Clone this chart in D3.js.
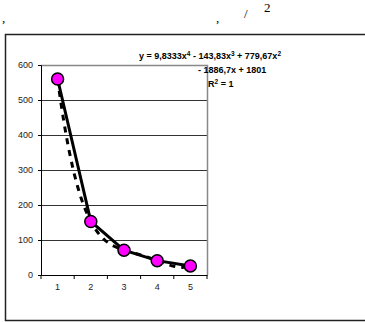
<!DOCTYPE html>
<html>
<head>
<script src="https://cdn.jsdelivr.net/npm/d3@7"></script>
<style>
body { margin: 0; background: #fff; }
svg text { font-family: "Liberation Sans", Arial, sans-serif; }
.top { font-family: "Liberation Serif", "Times New Roman", serif; font-size: 13px; }
</style>
</head>
<body>
<script>
// data
var categories = [1, 2, 3, 4, 5];
var values = [560, 153, 71, 41, 26];
var yTicks = [0, 100, 200, 300, 400, 500, 600];
// trendline coefficients (x^4 .. x^0) as shown in the chart
var coeffs = [9.8333, -143.83, 779.67, -1886.7, 1801];
var eqLines = ["y = 9,8333x4 - 143,83x3 + 779,67x2", "- 1886,7x + 1801", "R2 = 1"];

var width = 365, height = 322;
var svg = d3.select("body").append("svg").attr("width", width).attr("height", height);

// stray header text
svg.append("text").attr("class", "top").attr("x", 2).attr("y", 22).text(",");
svg.append("text").attr("class", "top").attr("x", 216).attr("y", 22).text(",");
svg.append("text").attr("class", "top").attr("x", 244).attr("y", 18).text("/");
svg.append("text").attr("class", "top").attr("x", 264).attr("y", 12).style("font-size", "13px").text("2");

// chart frame
svg.append("rect").attr("x", 5.5).attr("y", 34.5).attr("width", 370).attr("height", 286)
  .attr("fill", "none").attr("stroke", "#222").attr("stroke-width", 1.5);

var x = d3.scaleBand().domain(categories).range([41, 207]);
var y = d3.scaleLinear().domain([0, 600]).range([275, 65]);

// gridlines
svg.append("g").selectAll("line").data(yTicks.filter(function(d){ return d > 0 && d < 600; }))
  .enter().append("line")
  .attr("x1", 41).attr("x2", 207)
  .attr("y1", function(d){ return Math.round(y(d)) + 0.5; })
  .attr("y2", function(d){ return Math.round(y(d)) + 0.5; })
  .attr("stroke", "#333").attr("stroke-width", 1);

// plot area border (top / right)
svg.append("path")
  .attr("d", "M41," + (y(600) + 0.5) + "H207.5V275")
  .attr("fill", "none").attr("stroke", "#888").attr("stroke-width", 1.5);

// y axis
var yAxis = svg.append("g").attr("transform", "translate(41,0)")
  .call(d3.axisLeft(y).tickValues(yTicks).tickSize(3).tickPadding(5));
yAxis.select(".domain").attr("stroke", "#000");
yAxis.selectAll("text").style("font-size", "9px").attr("fill", "#222");

// x axis
var xAxis = svg.append("g").attr("transform", "translate(0,275)")
  .call(d3.axisBottom(x).tickSize(0).tickPadding(9));
xAxis.select(".domain").attr("stroke", "#000");
xAxis.selectAll("text").style("font-size", "9px").attr("fill", "#222");
// tick marks between categories
xAxis.selectAll(".sep").data(d3.range(categories.length + 1)).enter().append("line")
  .attr("class", "sep")
  .attr("x1", function(i){ return 41 + i * x.step(); })
  .attr("x2", function(i){ return 41 + i * x.step(); })
  .attr("y1", 0).attr("y2", 4).attr("stroke", "#000");

function cx(d){ return x(d) + x.bandwidth() / 2; }

// polynomial trendline
var xs = d3.range(1, 5.001, 0.05);
function poly(t){
  return coeffs.reduce(function(acc, c){ return acc * t + c; }, 0);
}
var tx = d3.scaleLinear().domain([1, 5]).range([cx(1), cx(5)]);
svg.append("path").datum(xs)
  .attr("d", d3.line().x(function(t){ return tx(t); }).y(function(t){ return y(poly(t)); }))
  .attr("fill", "none").attr("stroke", "#000").attr("stroke-width", 3)
  .attr("stroke-dasharray", "6,6");

// data line
svg.append("path").datum(values)
  .attr("d", d3.line().x(function(d, i){ return cx(categories[i]); }).y(function(d){ return y(d); }))
  .attr("fill", "none").attr("stroke", "#000").attr("stroke-width", 3);

// markers
svg.append("g").selectAll("circle").data(values).enter().append("circle")
  .attr("cx", function(d, i){ return cx(categories[i]); })
  .attr("cy", function(d){ return y(d); })
  .attr("r", 6)
  .attr("fill", "#ff00ff").attr("stroke", "#000").attr("stroke-width", 1.5);

// equation text
var eq = svg.append("g").style("font-size", "9px").style("font-weight", "bold");
function supText(el, str){
  // superscript the digit that follows "x" or "R"
  var parts = str.split(/(?<=[xR])([234])/);
  parts.forEach(function(p, i){
    if (i % 2 === 1) el.append("tspan").attr("dy", -3).style("font-size", "6.5px").text(p);
    else {
      var t = el.append("tspan").text(p);
      if (i > 0) t.attr("dy", 3);
    }
  });
}
supText(eq.append("text").attr("x", 139).attr("y", 59), eqLines[0]);
supText(eq.append("text").attr("x", 198).attr("y", 73), eqLines[1]);
supText(eq.append("text").attr("x", 208).attr("y", 87), eqLines[2]);
</script>
</body>
</html>
